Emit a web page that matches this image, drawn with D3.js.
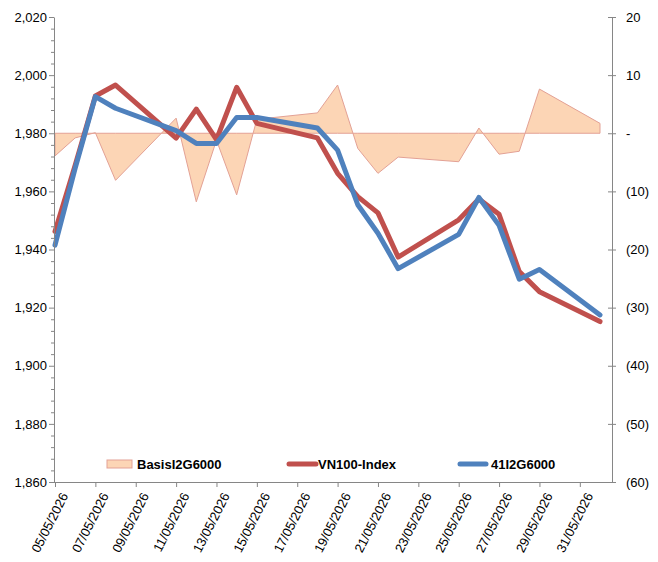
<!DOCTYPE html>
<html>
<head>
<meta charset="utf-8">
<script src="https://cdn.jsdelivr.net/npm/d3@7"></script>
<style>
  body { margin: 0; background: #fff; }
  svg { display: block; font-family: Arial, "Liberation Sans", sans-serif; }
</style>
</head>
<body>
<svg id="chart" width="658" height="562"></svg>
<script>
// trading days shown in the chart
const dates = [
  '05/05/2026', '06/05/2026', '07/05/2026', '08/05/2026', '11/05/2026',
  '12/05/2026', '13/05/2026', '14/05/2026', '15/05/2026', '18/05/2026',
  '19/05/2026', '20/05/2026', '21/05/2026', '22/05/2026', '25/05/2026',
  '26/05/2026', '27/05/2026', '28/05/2026', '29/05/2026', '01/06/2026'
];
const basis = [
  -3.9, -0.8, 0.1, -8.1, 2.6, -11.8, -1.2, -10.6, 2.4, 3.5,
  8.3, -2.6, -6.9, -4.1, -4.9, 0.9, -3.6, -3.1, 7.6, 1.7
];
const vn100 = [
  1946.2, 1969, 1992.8, 1996.6, 1978.3, 1988.3, 1977.8, 1995.8, 1983.4, 1978.4,
  1966.2, 1958.2, 1952.6, 1937.4, 1950.2, 1957.4, 1952.1, 1932.4, 1925.5, 1915.2
];
const fut41 = [
  1941.5, 1968, 1992.6, 1988.6, 1980.9, 1976.5, 1976.5, 1985.4, 1985.4, 1981.8,
  1974.2, 1955.4, 1945.6, 1933.4, 1945.2, 1957.9, 1948.3, 1929.8, 1933.1, 1917.5
];
const leftTicks = [1860, 1880, 1900, 1920, 1940, 1960, 1980, 2000, 2020];
const rightTicks = [-60, -50, -40, -30, -20, -10, 0, 10, 20];
const tickDates = [
  '05/05/2026', '07/05/2026', '09/05/2026', '11/05/2026', '13/05/2026',
  '15/05/2026', '17/05/2026', '19/05/2026', '21/05/2026', '23/05/2026',
  '25/05/2026', '27/05/2026', '29/05/2026', '31/05/2026'
];
const seriesNames = ['BasisI2G6000', 'VN100-Index', '41I2G6000'];

const parse = d3.timeParse('%d/%m/%Y');
const fmtDate = d3.timeFormat('%d/%m/%Y');
const svg = d3.select('#chart');

const plotLeft = 54, plotRight = 612, plotTop = 17, plotBottom = 482;
const axisColor = '#868686';

const x = d3.scaleTime()
  .domain([parse(dates[0]), parse(dates[dates.length - 1])])
  .range([55, 600]);
const yL = d3.scaleLinear().domain([1860, 2020]).range([plotBottom, plotTop]);
const yR = d3.scaleLinear().domain([-60, 20]).range([plotBottom, plotTop]);

const rows = dates.map((d, i) => ({
  date: parse(d), basis: basis[i], vn: vn100[i], fut: fut41[i]
}));

// basis area on right axis
const area = d3.area()
  .x((d) => x(d.date))
  .y0(yR(0))
  .y1((d) => yR(d.basis));
svg.append('path')
  .datum(rows)
  .attr('d', area)
  .attr('fill', '#FCD5B5')
  .attr('stroke', '#E3A195')
  .attr('stroke-width', 1);

const line = (key) => d3.line().x((d) => x(d.date)).y((d) => yL(d[key]));

svg.append('path')
  .datum(rows)
  .attr('d', line('vn'))
  .attr('fill', 'none')
  .attr('stroke', '#C0504D')
  .attr('stroke-width', 5)
  .attr('stroke-linejoin', 'round')
  .attr('stroke-linecap', 'round');

svg.append('path')
  .datum(rows)
  .attr('d', line('fut'))
  .attr('fill', 'none')
  .attr('stroke', '#4F81BD')
  .attr('stroke-width', 5)
  .attr('stroke-linejoin', 'round')
  .attr('stroke-linecap', 'round');

// left axis
const gL = svg.append('g')
  .attr('transform', `translate(${plotLeft},0)`)
  .call(d3.axisLeft(yL).tickValues(leftTicks).tickFormat(d3.format(',')).tickSize(5).tickSizeOuter(0));
const minor = d3.range(1860, 2021, 4).filter((v) => v % 20 !== 0);
svg.append('g')
  .attr('transform', `translate(${plotLeft},0)`)
  .selectAll('line')
  .data(minor)
  .join('line')
  .attr('x1', -3).attr('x2', 0)
  .attr('y1', (d) => yL(d) + 0.5).attr('y2', (d) => yL(d) + 0.5)
  .attr('stroke', axisColor);

// right axis
const fmtRight = (v) => (v > 0 ? String(v) : v === 0 ? '-' : `(${-v})`);
const gR = svg.append('g')
  .attr('transform', `translate(${plotRight},0)`)
  .call(d3.axisRight(yR).tickValues(rightTicks).tickFormat(fmtRight).tickSize(4).tickSizeOuter(0));
gR.selectAll('.tick line').attr('x1', -4);
gR.selectAll('.tick text').attr('x', 14);

// bottom axis
const gB = svg.append('g')
  .attr('transform', `translate(0,${plotBottom})`)
  .call(d3.axisBottom(x).tickValues(tickDates.map(parse)).tickFormat(fmtDate).tickSize(5).tickSizeOuter(0));
gB.select('.domain').attr('d', `M${plotLeft},0.5H${plotRight}`);
gB.selectAll('.tick text')
  .attr('text-anchor', 'end')
  .attr('dx', 0)
  .attr('dy', 0)
  .attr('transform', 'translate(6,10) rotate(-63)');

[gL, gR, gB].forEach((g) => {
  g.selectAll('.domain, .tick line').attr('stroke', axisColor);
  g.selectAll('.tick text')
    .attr('fill', '#000')
    .style('font-size', '13px')
    .style('font-family', 'Arial, "Liberation Sans", sans-serif');
});
gL.selectAll('.tick text').attr('x', -7);

// legend
const legY = 464;
const leg = svg.append('g').style('font-size', '13px').style('font-weight', 'bold');
leg.append('rect')
  .attr('x', 107).attr('y', legY - 4).attr('width', 25).attr('height', 8)
  .attr('fill', '#FCD5B5').attr('stroke', '#E3A195');
leg.append('text').attr('x', 137).attr('y', legY + 5).text(seriesNames[0]);
leg.append('line')
  .attr('x1', 289).attr('x2', 316).attr('y1', legY).attr('y2', legY)
  .attr('stroke', '#C0504D').attr('stroke-width', 5).attr('stroke-linecap', 'round');
leg.append('text').attr('x', 318).attr('y', legY + 5).text(seriesNames[1]);
leg.append('line')
  .attr('x1', 460).attr('x2', 486).attr('y1', legY).attr('y2', legY)
  .attr('stroke', '#4F81BD').attr('stroke-width', 5).attr('stroke-linecap', 'round');
leg.append('text').attr('x', 491).attr('y', legY + 5).text(seriesNames[2]);
</script>
</body>
</html>
